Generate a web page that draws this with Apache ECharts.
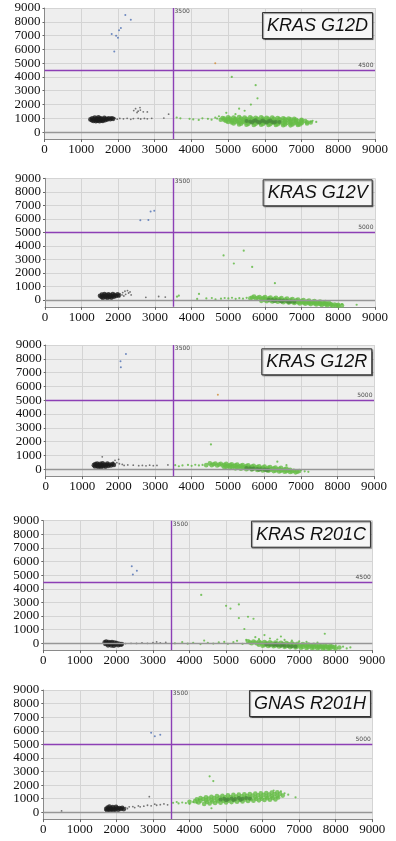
<!DOCTYPE html>
<html><head><meta charset="utf-8">
<script src="https://cdn.jsdelivr.net/npm/echarts@6/dist/echarts.min.js"></script>
<style>html,body{margin:0;padding:0;background:#fff}#c{width:396px;height:841px}</style>
</head><body><div id="c"></div>
<script>
// ---------- titles & thresholds ----------
const panelTitles = ['KRAS G12D','KRAS G12V','KRAS G12R','KRAS R201C','GNAS R201H'];
const thresholdX = [3500,3500,3500,3500,3500];
const thresholdY = [4500,5000,5000,4500,5000];
const xTicks = [0,1000,2000,3000,4000,5000,6000,7000,8000,9000];
const yTicks = [0,1000,2000,3000,4000,5000,6000,7000,8000,9000];

// ---------- panel 1: KRAS G12D ----------
const p1Blue = [[2200,8500],[2350,8150],[2080,7550],[2030,7380],[1830,7120],[1950,6980],[2000,6850],[1900,5850]];
const p1Orange = [[4650,5000]];
const p1Black = [[1250,920],[1290,860],[1300,1000],[1330,800],[1350,930],[1370,1060],[1400,790],[1410,880],[1420,990],[1450,830],[1460,940],[1470,1070],[1500,790],[1510,900],[1520,1010],[1550,850],[1560,960],[1590,800],[1610,910],[1630,1030],[1660,870],[1680,970],[1710,920],[1750,1000],[1790,930],[1830,1010],[1870,960]];
const p1Sparse = [[1920,1010],[1980,940],[2050,990],[2150,960],[2250,1000],[2350,930],[2420,980],[2550,1000],[2620,950],[2720,990],[2800,960],[2920,1000],[3250,1020],[3380,1300],[2430,1560],[2480,1700],[2550,1520],[2610,1600],[2690,1470],[2520,1420],[2800,1460],[2600,1780]];
const p1Green = [[4850,1020],[5000,1080],[5150,1050],[5300,1100],[5450,1060],[5600,1080],[5750,1040],[5900,1070],[6050,1030],[6200,1060],[6350,1020],[6500,1000],[6650,980],[6800,960],
[4900,980],[5050,990],[5200,970],[5350,990],[5500,970],[5650,990],[5800,970],[5950,980],[6100,960],[6250,970],[6400,950],[6550,940],[6700,920],[6850,900],[7000,900],
[4800,900],[4900,870],[5000,920],[5100,880],[5200,900],[5300,860],[5400,910],[5500,880],[5600,900],[5700,870],[5800,900],[5900,860],[6000,890],[6100,850],[6200,880],[6300,840],[6400,870],[6500,830],[6600,860],[6700,820],[6800,850],[6900,810],[7000,830],[7100,800],
[4950,800],[5100,790],[5250,800],[5400,780],[5550,790],[6550,740],[6700,730],[6850,740],[7000,720],[7150,710],[7250,700],
[5000,740],[5100,700],[5200,730],[5300,690],[5400,720],[5500,680],[5600,710],[5700,670],[5800,700],[5900,660],[6000,690],[6100,650],[6200,680],[6300,640],[6400,670],[6500,630],[6600,660],[6700,620],[6800,640],[6900,610],[7000,640],[7150,620],
[5150,620],[5350,610],[5550,600],[5750,600],[5950,590],[6150,580],[6350,570],[6550,560],[6750,560],[6950,560],
[5300,560],[5500,540],[5700,520],[5900,530],[6100,510],[6300,520],[6500,500],[6700,490],[6900,510]];
const p1GreenSparse = [[3600,1060],[3700,1000],[3950,960],[4050,920],[4200,880],[4300,1000],[4450,960],[4550,900],[4650,1050],[4700,980],[4750,1150],[4950,1400],[5200,1300],[7250,750],[7400,740],[7300,820],
[5100,4000],[5750,3400],[5800,2450],[5620,2000],[5300,1700],[5450,1550]];
const p1Core = [[5500,800],[5600,770],[5700,810],[5800,760],[5900,790],[6000,750],[6100,780],[6200,740],[6300,760],[6400,730],[5650,700],[5850,700],[6050,690],[6250,700],[5750,860],[5950,850],[6150,840]];

// ---------- panel 2: KRAS G12V ----------
const p2Blue = [[2600,5900],[2820,5920],[2880,6550],[2980,6600]];
const p2Orange = [];
const p2Black = [[1500,320],[1540,230],[1550,400],[1580,150],[1600,300],[1620,450],[1650,220],[1670,360],[1700,150],[1710,290],[1730,430],[1760,230],[1780,360],[1810,170],[1830,300],[1850,440],[1880,240],[1900,370],[1940,300],[1980,420],[2010,330]];
const p2Sparse = [[2050,460],[2100,380],[2120,550],[2180,650],[2200,420],[2250,700],[2280,520],[2320,600],[2350,380],[2150,300],[2030,250],[2750,200],[3100,260],[3280,220]];
const p2Green = [[5700,250],[5850,230],[6000,220],[6150,190],[6300,170],[6450,140],[6600,110],[6750,80],[6900,40],[7050,0],[7200,-40],[7350,-80],[7500,-120],[7650,-150],
[5650,190],[5800,170],[5950,150],[6100,120],[6250,100],[6400,70],[6550,40],[6700,10],[6850,-20],[7000,-60],[7150,-100],[7300,-130],[7450,-170],[7600,-200],[7750,-230],
[5600,130],[5750,110],[5900,90],[6000,60],[6100,50],[6200,30],[6300,10],[6400,-10],[6500,-30],[6600,-50],[6700,-70],[6800,-100],[6900,-120],[7000,-140],[7100,-160],[7200,-180],[7300,-200],[7400,-230],[7500,-250],[7600,-270],[7700,-290],[7800,-310],[7900,-330],[8000,-350],
[6000,-10],[6150,-30],[6300,-60],[6450,-80],[6600,-110],[6750,-140],[6900,-170],[7050,-200],[7200,-230],[7350,-260],[7500,-290],[7650,-320],[7800,-350],[7950,-380],
[5900,-60],[6050,-80],[6200,-110],[6350,-130],[6500,-160],[6650,-190],[6800,-220],[6950,-250],[7100,-280],[7250,-300],[7400,-330],[7550,-360],[7700,-390],[7850,-420],[8000,-440],[8100,-400]];
const p2GreenSparse = [[3600,250],[3650,320],[4150,80],[4200,450],[4400,120],[4550,150],[4650,60],[4800,100],[4900,150],[5000,120],[5100,170],[5200,90],[5300,140],[5400,100],[5500,160],[8100,-300],[8500,-350],
[4870,3300],[5420,3650],[5150,2700],[5650,2450],[6270,1250]];
const p2Core = [[6100,20],[6200,0],[6300,-20],[6400,-40],[6500,-60],[6600,-80],[6700,-110],[6800,-130],[6250,-70],[6450,-100],[6650,-140]];

// ---------- panel 3: KRAS G12R ----------
const p3Blue = [[2200,8350],[2050,7820],[2060,7380]];
const p3Orange = [[4720,5400]];
const p3Black = [[1320,300],[1350,200],[1360,380],[1400,250],[1410,420],[1440,170],[1450,320],[1480,230],[1500,400],[1520,160],[1540,300],[1560,440],[1580,220],[1610,350],[1640,180],[1660,300],[1690,410],[1720,250],[1750,340],[1790,280],[1830,380],[1870,320]];
const p3Sparse = [[1550,900],[1900,650],[1850,520],[1950,480],[2000,720],[2020,400],[2100,350],[2150,280],[2250,320],[2400,300],[2550,260],[2650,280],[2750,250],[2850,300],[2950,260],[3050,280],[3350,320]];
const p3Green = [[4500,430],[4650,420],[4800,400],[4950,390],[5100,370],[5250,340],[5400,310],[5550,290],[5700,260],[5850,220],[6000,190],[6150,160],[6300,130],[6450,100],[6600,60],
[4600,360],[4750,340],[4900,330],[5050,310],[5200,290],[5350,260],[5500,230],[5650,200],[5800,170],[5950,130],[6100,100],[6250,70],[6400,40],[6550,0],[6700,-30],
[4400,300],[4550,300],[4700,280],[4850,270],[5000,250],[5150,230],[5300,200],[5450,170],[5600,140],[5750,110],[5900,70],[6050,40],[6200,10],[6350,-20],[6500,-50],[6650,-70],[6800,-100],[6950,-120],
[4950,190],[5100,170],[5250,140],[5400,110],[5550,80],[5700,50],[5850,10],[6000,-20],[6150,-50],[6300,-80],[6450,-100],[6600,-130],[6750,-150],[6900,-170],
[4900,120],[5050,100],[5200,70],[5350,40],[5500,10],[5650,-20],[5800,-50],[5950,-80],[6100,-110],[6250,-130],[6400,-160],[6550,-180],[6700,-200],[6850,-220]];
const p3GreenSparse = [[3550,300],[3650,220],[3750,280],[3900,320],[4000,250],[4100,330],[4200,280],[4300,320],[7000,-50],[7100,-150],[7200,-180],
[4530,1800],[6350,550],[6600,300]];
const p3Core = [[5500,100],[5600,80],[5700,50],[5800,30],[5900,10],[6000,-10],[6100,-30],[5650,0],[5850,-40],[6050,-70]];

// ---------- panel 4: KRAS R201C ----------
const p4Blue = [[2420,5650],[2560,5320],[2450,5050]];
const p4Orange = [];
const p4Black = [[1680,80],[1700,-50],[1720,120],[1750,0],[1770,-150],[1790,90],[1810,-60],[1840,40],[1860,-160],[1880,100],[1900,-40],[1930,-180],[1950,60],[1980,-90],[2010,20],[2050,-140],[2080,-30],[2120,-100],[2150,-60]];
const p4Sparse = [[2250,-20],[2400,0],[2550,-10],[2700,20],[2850,0],[3000,40],[3100,100],[3200,30],[3350,60]];
const p4Green = [[5600,150],[5750,130],[5900,110],[6050,100],[6200,80],[6350,60],[6500,40],[6650,20],[6800,0],[6950,-30],[7100,-60],[7250,-90],[7400,-120],[7550,-150],[7700,-170],[7850,-190],
[5650,70],[5800,60],[5950,40],[6100,20],[6250,0],[6400,-20],[6550,-40],[6700,-60],[6850,-80],[7000,-110],[7150,-130],[7300,-160],[7450,-180],[7600,-200],[7750,-220],[7900,-240],
[5700,0],[5850,-20],[6000,-40],[6150,-60],[6300,-80],[6450,-100],[6600,-120],[6750,-140],[6900,-160],[7050,-180],[7200,-200],[7350,-220],[7500,-240],[7650,-260],[7800,-280],[7950,-300],[8100,-310],
[5900,-110],[6050,-120],[6200,-140],[6350,-160],[6500,-180],[6650,-200],[6800,-220],[6950,-240],[7100,-260],[7250,-280],[7400,-300],[7550,-310],[7700,-330],[7850,-350],[8000,-370],
[6000,-180],[6150,-200],[6300,-220],[6450,-240],[6600,-260],[6750,-280],[6900,-300],[7050,-320],[7200,-340],[7350,-350],[7500,-360],[7650,-380],[7800,-400]];
const p4GreenSparse = [[3600,0],[3800,80],[3950,-30],[4100,40],[4300,-60],[4400,200],[4500,30],[4650,-20],[4800,60],[4950,100],[5050,-40],[5200,80],[5300,180],[5450,-50],[5550,250],[5900,300],[6200,350],[6400,280],[6600,250],[6800,200],[7000,150],[7200,100],[7500,50],[8000,-150],[8200,-250],[8400,-300],[8300,-380],
[4320,3550],[5000,2750],[5120,2550],[5350,2850],[5350,1850],[5600,1950],[5750,1800],[5500,1050],[6050,600],[6500,500],[7700,700],[5800,450]];
const p4Core = [[6100,-80],[6200,-100],[6300,-120],[6400,-140],[6500,-160],[6600,-180],[6700,-200],[6800,-210],[6900,-230],[6350,-60],[6550,-90]];

// ---------- panel 5: GNAS R201H ----------
const p5Blue = [[2950,5850],[3050,5600],[3200,5700]];
const p5Orange = [];
const p5Black = [[1720,250],[1740,150],[1760,350],[1790,200],[1810,420],[1830,120],[1850,300],[1870,220],[1900,380],[1920,140],[1940,280],[1970,200],[1990,400],[2020,300],[2050,180],[2080,320],[2120,250],[2160,330],[2200,230]];
const p5Sparse = [[2250,350],[2300,280],[2350,400],[2450,420],[2500,350],[2600,470],[2650,400],[2750,450],[2850,520],[2950,480],[3050,600],[3100,520],[3200,560],[3300,620],[3400,550],[500,100],[2900,1150]];
const p5Green = [[4300,1050],[4450,1100],[4600,1150],[4750,1200],[4900,1220],[5050,1250],[5200,1280],[5350,1300],[5500,1320],[5650,1350],[5800,1380],[5950,1400],[6100,1420],[6250,1450],[6400,1480],
[4200,950],[4375,980],[4525,1010],[4675,1040],[4825,1080],[4975,1110],[5125,1130],[5275,1160],[5425,1180],[5575,1210],[5725,1240],[5875,1260],[6025,1290],[6175,1310],[6325,1340],[6475,1360],
[4000,780],[4150,820],[4300,850],[4450,880],[4600,900],[4750,930],[4900,950],[5050,980],[5200,1000],[5350,1030],[5500,1050],[5650,1080],[5800,1100],[5950,1130],[6100,1150],[6250,1180],[6400,1200],[6550,1230],
[4250,730],[4475,760],[4625,790],[4775,810],[4925,840],[5075,860],[5225,890],[5375,910],[5525,940],[5675,960],[5825,990],[5975,1010],[6125,1040],[6275,1060],[6425,1090],
[4400,620],[4550,650],[4700,680],[4850,700],[5000,730],[5150,750],[5300,780],[5450,800],[5600,830],[5750,850],[5900,880],[6050,900],[6200,930],[6350,950]];
const p5GreenSparse = [[3550,700],[3650,760],[3700,650],[3800,720],[3900,680],[4000,620],[4100,750],[4200,700],[4250,950],[6600,1400],[6700,1300],[6900,1100],[4600,300],[6500,1550],[6300,1600],
[4550,2650],[4650,2300]];
const p5Core = [[4850,950],[4950,1000],[5050,950],[5150,1020],[5250,980],[5350,1050],[5450,1000],[5550,1060],[5650,1020],[5000,880],[5200,900],[5400,920]];

const panels = [
  {blue:p1Blue, orange:p1Orange, black:p1Black, sparse:p1Sparse, green:p1Green, greenSparse:p1GreenSparse, core:p1Core},
  {blue:p2Blue, orange:p2Orange, black:p2Black, sparse:p2Sparse, green:p2Green, greenSparse:p2GreenSparse, core:p2Core},
  {blue:p3Blue, orange:p3Orange, black:p3Black, sparse:p3Sparse, green:p3Green, greenSparse:p3GreenSparse, core:p3Core},
  {blue:p4Blue, orange:p4Orange, black:p4Black, sparse:p4Sparse, green:p4Green, greenSparse:p4GreenSparse, core:p4Core},
  {blue:p5Blue, orange:p5Orange, black:p5Black, sparse:p5Sparse, green:p5Green, greenSparse:p5GreenSparse, core:p5Core}
];

// ---------- layout ----------
const gridBoxes = [
  {left:44.5, top:8, width:330.5, height:131},
  {left:45, top:178.3, width:330, height:128.5},
  {left:45.7, top:345, width:328.3, height:131.2},
  {left:43.3, top:520.7, width:329, height:129.4},
  {left:43.3, top:690, width:329, height:129.1}
];
const titleBoxes = [
  {right:23, top:12},
  {right:23.3, top:179.3},
  {right:23.7, top:348.3},
  {right:25, top:520.7},
  {right:25, top:690}
];

const serif = "Liberation Serif";
const grids = [], xAxes = [], yAxes = [], series = [], titles = [];
const plain = v => String(v);

gridBoxes.forEach((g, i) => {
  grids.push(Object.assign({show:true, backgroundColor:'#eeeeee', borderWidth:0}, g));
  xAxes.push({
    type:'value', gridIndex:i, min:0, max:9000, interval:1000,
    axisLine:{show:true, onZero:false, lineStyle:{color:'#8a8a8a', width:1}},
    axisTick:{show:true, length:3, lineStyle:{color:'#666'}},
    axisLabel:{show:true, margin:4, color:'#111', fontFamily:serif, fontSize:13, formatter:plain},
    splitLine:{show:true, lineStyle:{color:'#d4d4d4', width:1}}
  });
  yAxes.push({
    type:'value', gridIndex:i, min:-500, max:9000,
    axisLine:{show:true, onZero:false, lineStyle:{color:'#8a8a8a', width:1}},
    axisTick:{show:true, length:2, customValues:yTicks, lineStyle:{color:'#666'}},
    axisLabel:{show:true, margin:4, customValues:yTicks, color:'#111', fontFamily:serif, fontSize:13, formatter:plain},
    splitLine:{show:true, lineStyle:{color:'#d4d4d4', width:1}}
  });
  titles.push(Object.assign({
    text: panelTitles[i],
    backgroundColor:'#f6f6f6', borderColor:'#333', borderWidth:1,
    padding:[4,5,3,5],
    shadowColor:'rgba(0,0,0,0.45)', shadowOffsetX:1, shadowOffsetY:1, shadowBlur:1,
    textStyle:{fontFamily:"Liberation Sans", fontStyle:'italic', fontWeight:'normal', fontSize:18, lineHeight:20, color:'#111'}
  }, titleBoxes[i]));

  const p = panels[i];
  const base = {type:'scatter', xAxisIndex:i, yAxisIndex:i, silent:true, animation:false};
  series.push(Object.assign({}, base, {name:'green'+i, data:p.green, symbolSize:4.6, itemStyle:{color:'#66bd47'}, z:2}));
  series.push(Object.assign({}, base, {name:'greenSparse'+i, data:p.greenSparse, symbolSize:2.2, itemStyle:{color:'#5cb83e'}, z:2}));
  series.push(Object.assign({}, base, {name:'core'+i, data:p.core, symbolSize:4, itemStyle:{color:'#4a8a3c', opacity:0.8}, z:3}));
  series.push(Object.assign({}, base, {name:'sparse'+i, data:p.sparse, symbolSize:1.8, itemStyle:{color:'#555'}, z:3}));
  series.push(Object.assign({}, base, {name:'black'+i, data:p.black, symbolSize:4.6, itemStyle:{color:'#1c1c1c'}, z:4}));
  series.push(Object.assign({}, base, {name:'blue'+i, data:p.blue, symbolSize:2, itemStyle:{color:'#4d6fb3'}, z:4}));
  series.push(Object.assign({}, base, {name:'orange'+i, data:p.orange, symbolSize:2, itemStyle:{color:'#d08a35'}, z:4}));
  series.push(Object.assign({}, base, {
    name:'lines'+i, data:[], z:5,
    markLine:{
      silent:true, symbol:['none','none'], animation:false, label:{show:false},
      data:[
        {yAxis:0, lineStyle:{color:'#969696', width:1.3, type:'solid'}},
        {xAxis:thresholdX[i], lineStyle:{color:'#8c3fb5', width:1.4, type:'solid'}},
        {yAxis:thresholdY[i], lineStyle:{color:'#8c3fb5', width:1.4, type:'solid'}}
      ]
    }
  }));
  series.push(Object.assign({}, base, {
    name:'thrLabels'+i, symbolSize:1, itemStyle:{color:'rgba(0,0,0,0)'}, z:6,
    data:[
      {value:[thresholdX[i], 9000], label:{show:true, formatter:String(thresholdX[i]), position:[2,1], align:'left', verticalAlign:'top'}},
      {value:[9000, thresholdY[i]], label:{show:true, formatter:String(thresholdY[i]), position:[-1,-1], align:'right', verticalAlign:'bottom'}}
    ],
    label:{fontSize:6, fontFamily:"DejaVu Sans", color:'#222'}
  }));
});

const chart = echarts.init(document.getElementById('c'), null, {renderer:'canvas'});
chart.setOption({
  animation:false,
  title: titles,
  grid: grids,
  xAxis: xAxes,
  yAxis: yAxes,
  series: series
});
</script>
</body></html>
